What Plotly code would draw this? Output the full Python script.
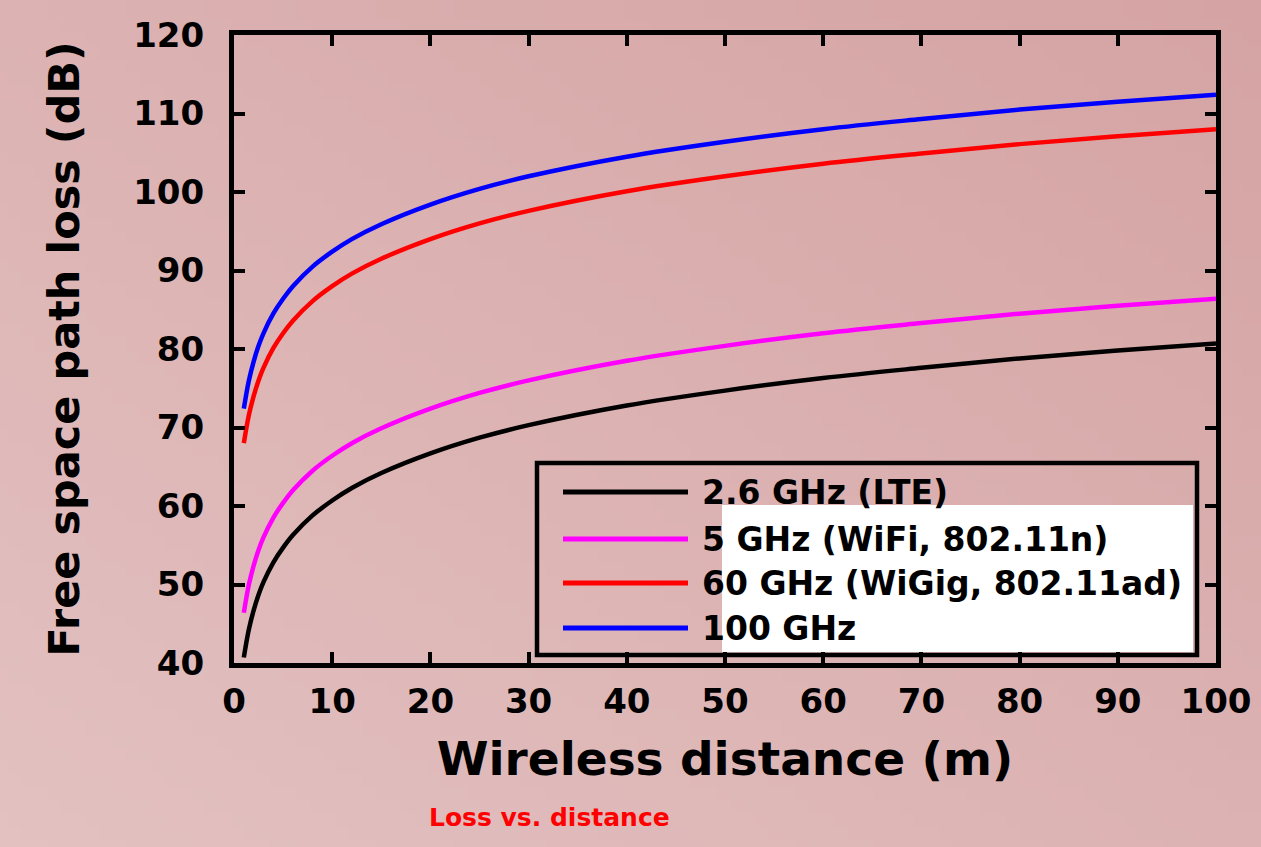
import zlib, struct, base64
import plotly.graph_objects as go

# ---- data ----
distance_m = [1, 1.5, 2, 2.5, 3, 4, 5, 6, 8, 10, 12, 15, 20, 25, 30, 40, 50, 60, 70, 80, 90, 100]
loss_lte = [40.7, 44.2, 46.7, 48.7, 50.3, 52.8, 54.7, 56.3, 58.8, 60.7, 62.3, 64.2, 66.7, 68.7, 70.3, 72.8, 74.7, 76.3, 77.6, 78.8, 79.8, 80.7]
loss_wifi = [46.4, 49.9, 52.4, 54.4, 56.0, 58.5, 60.4, 62.0, 64.5, 66.4, 68.0, 69.9, 72.4, 74.4, 76.0, 78.5, 80.4, 82.0, 83.3, 84.5, 85.5, 86.4]
loss_wigig = [68.0, 71.5, 74.0, 76.0, 77.6, 80.1, 82.0, 83.6, 86.1, 88.0, 89.6, 91.5, 94.0, 96.0, 97.6, 100.1, 102.0, 103.6, 104.9, 106.1, 107.1, 108.0]
loss_100g = [72.4, 75.9, 78.4, 80.4, 82.0, 84.5, 86.4, 88.0, 90.5, 92.4, 94.0, 95.9, 98.4, 100.4, 102.0, 104.5, 106.4, 108.0, 109.3, 110.5, 111.5, 112.4]

series_names = ["2.6 GHz (LTE)", "5 GHz (WiFi, 802.11n)", "60 GHz (WiGig, 802.11ad)", "100 GHz"]
series_values = [loss_lte, loss_wifi, loss_wigig, loss_100g]
series_colors = ["#000000", "#ff00ff", "#ff0000", "#0000ff"]

x_ticks = [0, 10, 20, 30, 40, 50, 60, 70, 80, 90, 100]
y_ticks = [40, 50, 60, 70, 80, 90, 100, 110, 120]

# ---- figure geometry ----
W, H = 1261, 847
ML, MR, MT, MB = 234, 45, 35, 184
PW, PH = W - ML - MR, H - MT - MB

def px_x(p):
    return (p - ML) / PW

def px_y(p):
    return (H - MB - p) / PH

# ---- background gradient image (png built in memory) ----
def gradient_png(w=96, h=64):
    c_tr = (213, 163, 163)
    c_bl = (227, 193, 193)
    rows = b""
    for j in range(h):
        row = b"\x00"
        for i in range(w):
            t = ((1 - i / (w - 1)) + j / (h - 1)) / 2
            row += bytes(int(round(a + (b - a) * t)) for a, b in zip(c_tr, c_bl))
        rows += row
    def chunk(tag, data):
        c = tag + data
        return struct.pack(">I", len(data)) + c + struct.pack(">I", zlib.crc32(c) & 0xffffffff)
    png = b"\x89PNG\r\n\x1a\n"
    png += chunk(b"IHDR", struct.pack(">IIBBBBB", w, h, 8, 2, 0, 0, 0))
    png += chunk(b"IDAT", zlib.compress(rows, 9))
    png += chunk(b"IEND", b"")
    return "data:image/png;base64," + base64.b64encode(png).decode()

FONT = "DejaVu Sans, Verdana, sans-serif"

fig = go.Figure()
for name, vals, col in zip(series_names, series_values, series_colors):
    fig.add_trace(go.Scatter(x=distance_m, y=vals, mode="lines", name=name,
                             line=dict(color=col, width=4.5, shape="spline", smoothing=1.0),
                             showlegend=False, hoverinfo="x+y+name"))

axis_common = dict(showline=True, linecolor="black", linewidth=5, mirror="allticks",
                   ticks="inside", ticklen=11, tickwidth=4, tickcolor="black",
                   showgrid=False, zeroline=False,
                   tickfont=dict(family=FONT, size=34, color="black", weight="bold"))

fig.update_xaxes(range=[0, 100], tickvals=x_ticks, ticktext=[str(v) for v in x_ticks],
                 ticklabelstandoff=4,
                 title=dict(text="Wireless distance (m)", standoff=24,
                            font=dict(family=FONT, size=47, color="black", weight="bold")),
                 **axis_common)
fig.update_yaxes(range=[40, 120], tickvals=y_ticks, ticktext=[str(v) for v in y_ticks],
                 ticklabelstandoff=18,
                 title=dict(text="Free space path loss (dB)", standoff=42,
                            font=dict(family=FONT, size=43, color="black", weight="bold")),
                 **axis_common)

shapes = []
# legend background patch and border
shapes.append(dict(type="rect", xref="paper", yref="paper",
                   x0=px_x(722), x1=px_x(1193), y0=px_y(652), y1=px_y(505),
                   fillcolor="white", line=dict(width=0), layer="above"))
shapes.append(dict(type="rect", xref="paper", yref="paper",
                   x0=px_x(537), x1=px_x(1197), y0=px_y(655), y1=px_y(463),
                   fillcolor="rgba(0,0,0,0)", line=dict(color="black", width=4.5), layer="above"))
annotations = []
row_px = [492, 539, 583, 628]
for name, col, ry in zip(series_names, series_colors, row_px):
    shapes.append(dict(type="line", xref="paper", yref="paper",
                       x0=px_x(563), x1=px_x(688), y0=px_y(ry), y1=px_y(ry),
                       line=dict(color=col, width=5)))
    annotations.append(dict(xref="paper", yref="paper", x=px_x(700), y=px_y(ry),
                            xanchor="left", yanchor="middle", showarrow=False, text=name,
                            font=dict(family=FONT, size=33, color="black", weight="bold")))

annotations.append(dict(xref="paper", yref="paper", x=px_x(427), y=px_y(818),
                        xanchor="left", yanchor="middle", showarrow=False,
                        text="Loss vs. distance",
                        font=dict(family=FONT, size=25, color="#ff0000", weight="bold")))

fig.update_layout(
    width=W, height=H,
    margin=dict(l=ML, r=MR, t=MT, b=MB, autoexpand=False),
    paper_bgcolor="#dcb2b2", plot_bgcolor="rgba(0,0,0,0)",
    shapes=shapes, annotations=annotations,
    images=[dict(source=gradient_png(), xref="paper", yref="paper",
                 x=-ML / PW, y=1 + MT / PH, sizex=W / PW, sizey=H / PH,
                 xanchor="left", yanchor="top", sizing="stretch", layer="below")],
)

fig.write_html("out.html", config={"displayModeBar": False},
               post_script="document.body.style.margin='0';document.body.style.overflow='hidden';")
